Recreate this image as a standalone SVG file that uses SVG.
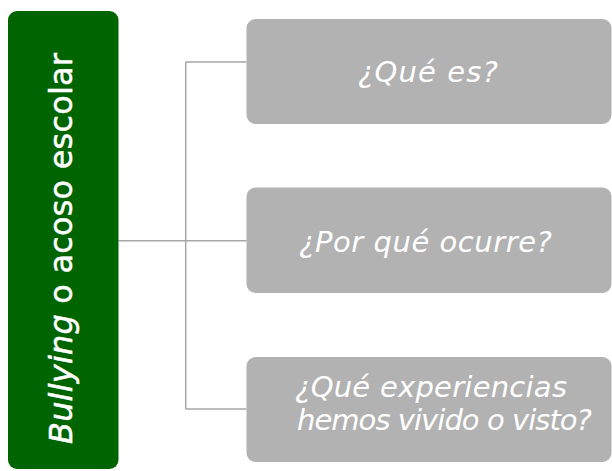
<svg xmlns="http://www.w3.org/2000/svg" width="612" height="471" viewBox="0 0 612 471">
<style>
.box{fill:#b2b2b2}
.q{font-family:"DejaVu Sans","Open Sans",sans-serif;font-style:italic;font-size:29px;fill:#ffffff;text-anchor:middle}
.main{font-family:"DejaVu Sans","Open Sans",sans-serif;font-size:32px;fill:#ffffff;stroke:#ffffff;stroke-width:0.5;text-anchor:middle}
.conn{stroke:#a6a6a6;stroke-width:1.5;fill:none}
</style>
<rect width="612" height="471" fill="#ffffff"/>
<g id="connectors">
<path class="conn" d="M118.5 240.7H246.5M185.7 62V409M185.7 62H246.5M185.7 409H246.5"/>
</g>
<g id="main">
<rect x="8" y="11" width="110.5" height="458" rx="9" fill="#006400"/>
<text class="main" transform="translate(72 248.5) rotate(-90)" x="0" y="0" textLength="391"><tspan font-style="italic">Bullying</tspan> o acoso escolar</text>
</g>
<g id="n1">
<rect class="box" x="246.5" y="19" width="365" height="105" rx="9"/>
<text class="q" x="428" y="82" textLength="140">¿Qué es?</text>
</g>
<g id="n2">
<rect class="box" x="246.5" y="187.5" width="365" height="105.5" rx="9"/>
<text class="q" x="425.5" y="252" textLength="253">¿Por qué ocurre?</text>
</g>
<g id="n3">
<rect class="box" x="246.5" y="357" width="365" height="105" rx="9"/>
<text class="q" x="431" y="397" textLength="272">¿Qué experiencias</text>
<text class="q" x="444.5" y="430" textLength="295">hemos vivido o visto?</text>
</g>
</svg>
